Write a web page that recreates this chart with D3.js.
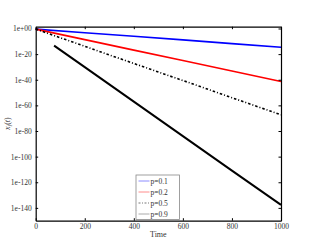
<!DOCTYPE html>
<html lang="en">
  <head>
    <meta charset="UTF-8" />
    <title>x_i(t) vs Time</title>
    <style>
      body {
        margin: 0;
        padding: 0;
        background-color: #ffffff;
      }
      svg text {
        font-family: "Liberation Serif", "DejaVu Serif", serif;
        fill: #333;
      }
    </style>
  </head>
  <body>
    <div id="plot"></div>

    <script src="https://d3js.org/d3.v7.min.js"></script>
    <script>
      // values
      const labels = ["p=0.1", "p=0.2", "p=0.5", "p=0.9"];
      const colors = ["#0000ff", "#ff0000", "#000000", "#000000"];
      const legendColors = ["#8c8cff", "#ff8c8c", "#777777", "#aaaaaa"];
      const dashes = [null, null, "2.5,2,1,2", null];

      const timeP01 = [0, 200, 400, 600, 800, 1000];
      const valueP01 = [0.316, 5e-4, 7.9e-7, 1.26e-9, 1.6e-12, 2.5e-15];
      const timeP02 = [0, 200, 400, 600, 800, 1000];
      const valueP02 = [0.316, 2e-9, 1.26e-17, 1e-25, 6.3e-34, 4e-42];
      const timeP05 = [0, 200, 400, 600, 800, 1000];
      const valueP05 = [0.316, 1.26e-14, 5e-28, 2.5e-41, 1e-54, 4e-68];
      const timeP09 = [75, 200, 400, 600, 800, 1000];
      const valueP09 = [4e-14, 6.3e-31, 7.9e-58, 1e-84, 1.26e-111, 2e-138];

      const xTicks = [0, 200, 400, 600, 800, 1000];
      const yTicks = [1e0, 1e-20, 1e-40, 1e-60, 1e-80, 1e-100, 1e-120, 1e-140];
      const yTickLabels = ["1e+00", "1e-20", "1e-40", "1e-60", "1e-80", "1e-100", "1e-120", "1e-140"];

      const series = [
        [timeP01, valueP01],
        [timeP02, valueP02],
        [timeP05, valueP05],
        [timeP09, valueP09],
      ];

      const W = 323, H = 249;
      const mLeft = 35.7, mRight = 281, mTop = 26.7, mBottom = 220.7;

      const svg = d3
        .select("#plot")
        .append("svg")
        .attr("width", W)
        .attr("height", H);

      const x = d3.scaleLinear().domain([0, 1000]).range([mLeft, mRight]);
      const y = d3.scaleLog().domain([1e-150, 25]).range([mBottom, mTop]);

      const line = d3
        .line()
        .x((d) => x(d[0]))
        .y((d) => y(d[1]));

      // series lines
      series.forEach((s, i) => {
        const pts = s[0].map((t, j) => [t, s[1][j]]);
        svg
          .append("path")
          .datum(pts)
          .attr("d", line)
          .attr("fill", "none")
          .attr("stroke", colors[i])
          .attr("stroke-width", i === 3 ? 2 : 1.6)
          .attr("stroke-dasharray", dashes[i]);
      });

      // axes, ticks inward on all sides
      const tl = 2.5;
      const gB = svg
        .append("g")
        .attr("transform", `translate(0,${mBottom})`)
        .call(
          d3
            .axisBottom(x)
            .tickValues(xTicks)
            .tickSizeInner(-tl)
            .tickSizeOuter(0)
            .tickPadding(3)
            .tickFormat(d3.format("d"))
        );
      const gT = svg
        .append("g")
        .attr("transform", `translate(0,${mTop})`)
        .call(d3.axisTop(x).tickValues(xTicks).tickSizeInner(-tl).tickSizeOuter(0).tickFormat(""));
      const gL = svg
        .append("g")
        .attr("transform", `translate(${mLeft},0)`)
        .call(
          d3
            .axisLeft(y)
            .tickValues(yTicks)
            .tickSizeInner(-tl)
            .tickSizeOuter(0)
            .tickPadding(4)
            .tickFormat((d, i) => yTickLabels[i])
        );
      const gR = svg
        .append("g")
        .attr("transform", `translate(${mRight},0)`)
        .call(d3.axisRight(y).tickValues(yTicks).tickSizeInner(-tl).tickSizeOuter(0).tickFormat(""));

      [gB, gT, gL, gR].forEach((g) => {
        g.select(".domain").attr("stroke", "#000").attr("stroke-width", 1.2);
        g.selectAll(".tick line").attr("stroke", "#000").attr("stroke-width", 1);
        g.selectAll("text")
          .attr("font-family", "Liberation Serif, DejaVu Serif, serif")
          .attr("font-size", 7.5)
          .attr("fill", "#444");
      });

      // axis labels
      svg
        .append("text")
        .attr("x", x(500))
        .attr("y", 237)
        .attr("text-anchor", "middle")
        .attr("font-size", 8)
        .text("Time");

      const yl = svg
        .append("text")
        .attr("transform", `translate(10,${(mTop + mBottom) / 2}) rotate(-90)`)
        .attr("text-anchor", "middle")
        .attr("font-size", 8);
      yl.append("tspan").attr("font-style", "italic").text("x");
      yl.append("tspan").attr("font-style", "italic").attr("font-size", 6).attr("dy", 1.5).text("i");
      yl.append("tspan").attr("dy", -1.5).text("(");
      yl.append("tspan").attr("font-style", "italic").text("t");
      yl.append("tspan").text(")");

      // legend
      const lg = svg.append("g").attr("transform", "translate(136,175)");
      lg.append("rect")
        .attr("width", 43.5)
        .attr("height", 44.5)
        .attr("fill", "#fff")
        .attr("stroke", "#888")
        .attr("stroke-width", 0.8);
      labels.forEach((lab, i) => {
        const yy = 6 + i * 11;
        lg.append("line")
          .attr("x1", 2.5)
          .attr("x2", 13.5)
          .attr("y1", yy)
          .attr("y2", yy)
          .attr("stroke", legendColors[i])
          .attr("stroke-width", 1)
          .attr("stroke-dasharray", dashes[i] ? "2,1.5,1,1.5" : null);
        lg.append("text")
          .attr("x", 14.5)
          .attr("y", yy + 2.6)
          .attr("font-size", 7.5)
          .attr("fill", "#555")
          .text(lab);
      });
    </script>
  </body>
</html>
